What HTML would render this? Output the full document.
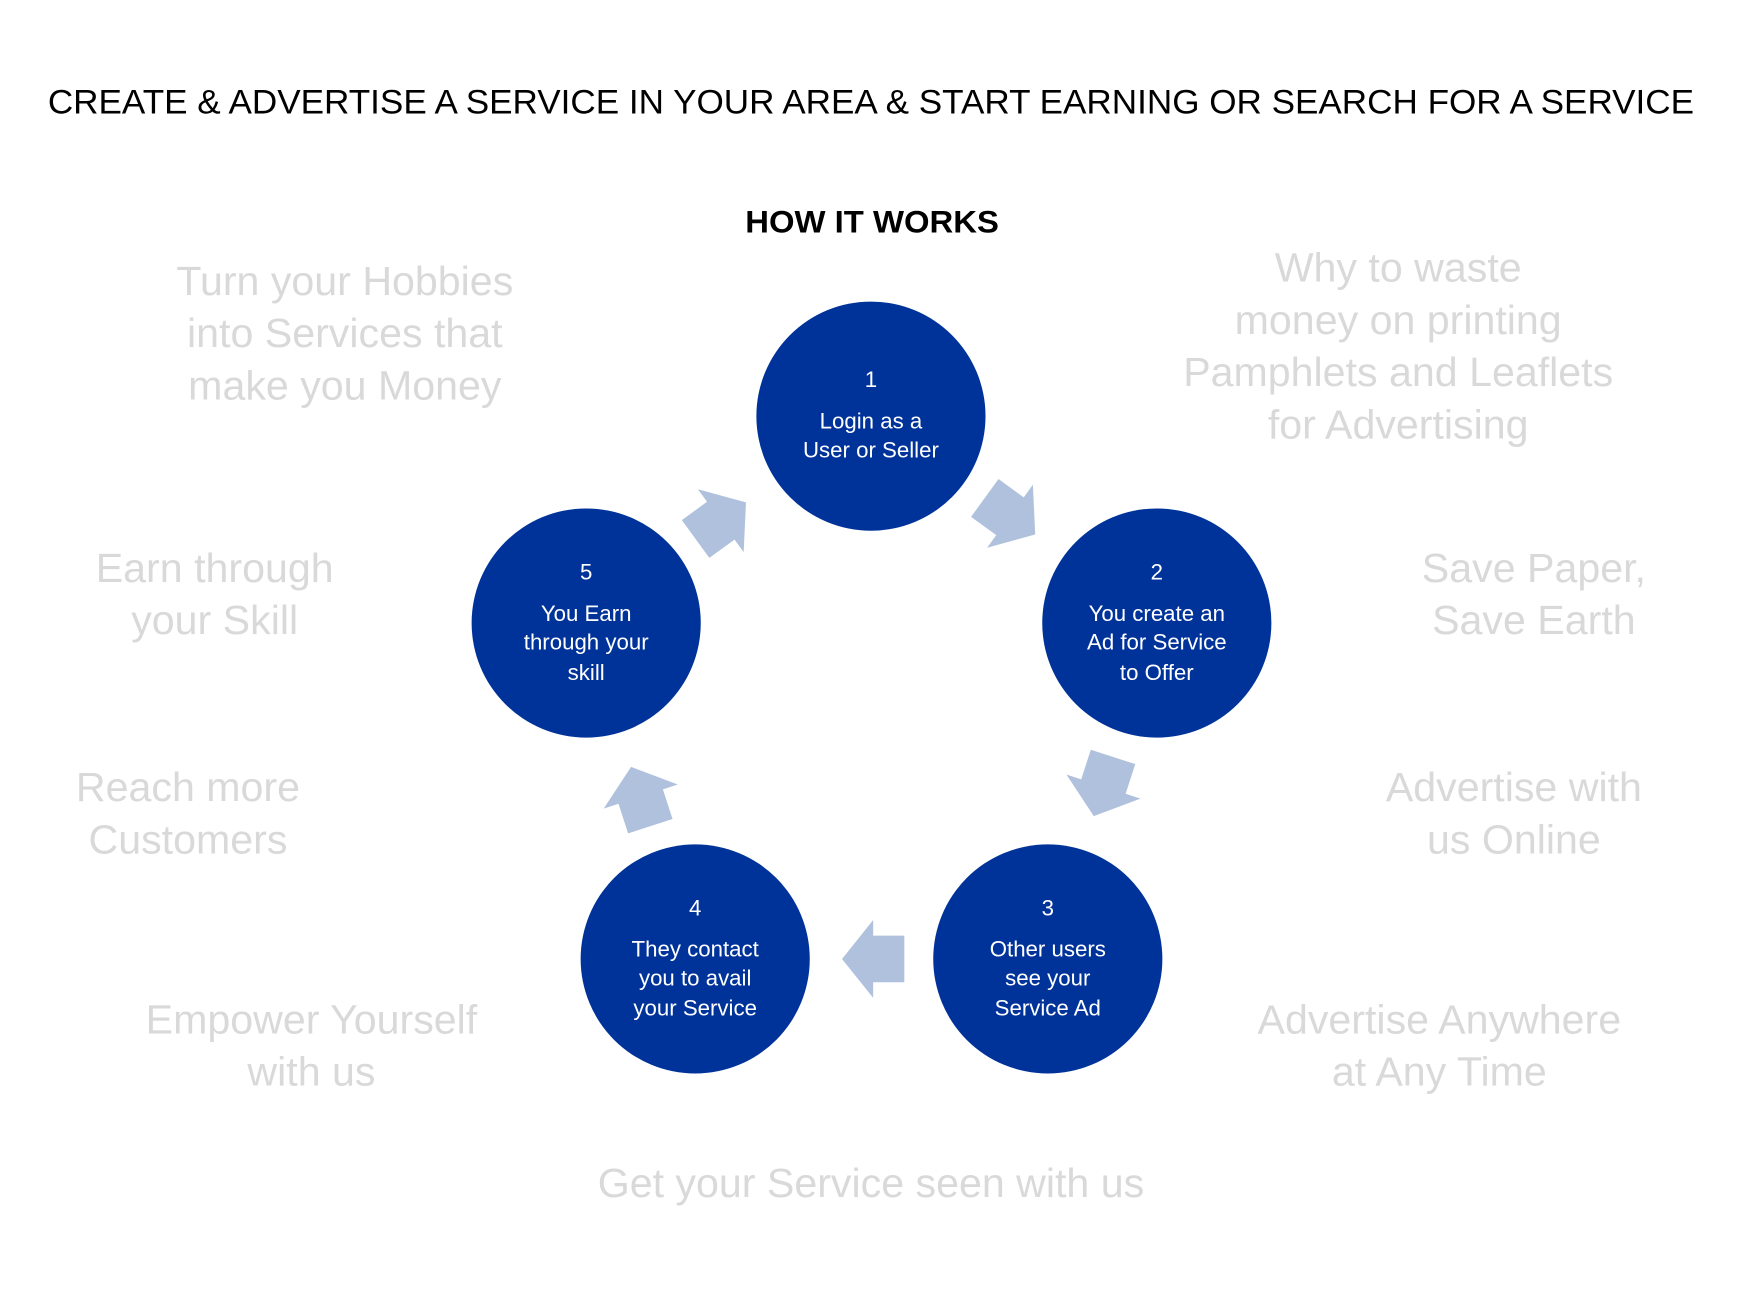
<!DOCTYPE html>
<html><head><meta charset="utf-8"><style>html,body{margin:0;padding:0;background:#fff}svg{display:block}</style></head>
<body>
<svg width="1743" height="1305" viewBox="0 0 1567 1173" xmlns="http://www.w3.org/2000/svg" font-family="'Liberation Sans', sans-serif">
<defs>
<polygon id="arr" points="-28,-21 0,-21 0,-35 28,0 0,35 0,21 -28,21" fill="#b0c1dd"/>
</defs>
<text x="783" y="102" font-size="31" text-anchor="middle" fill="#000" textLength="1480" lengthAdjust="spacingAndGlyphs">CREATE &amp; ADVERTISE A SERVICE IN YOUR AREA &amp; START EARNING OR SEARCH FOR A SERVICE</text>
<text x="784" y="209" font-size="28" font-weight="bold" text-anchor="middle" textLength="228" lengthAdjust="spacingAndGlyphs">HOW IT WORKS</text>

<use href="#arr" transform="translate(908,464) rotate(36)"/>
<use href="#arr" transform="translate(992,707) rotate(108)"/>
<use href="#arr" transform="translate(785,862) rotate(180)"/>
<use href="#arr" transform="translate(576,716) rotate(252)"/>
<use href="#arr" transform="translate(648,468) rotate(324)"/>

<g fill="#003399">
<circle cx="783" cy="374" r="103"/>
<circle cx="1040" cy="560" r="103"/>
<circle cx="942" cy="862" r="103"/>
<circle cx="625" cy="862" r="103"/>
<circle cx="527" cy="560" r="103"/>
</g>
<g fill="#fff" font-size="20" text-anchor="middle">
<text x="783" y="348">1</text><text x="783" y="385">Login as a</text><text x="783" y="411">User or Seller</text>
<text x="1040" y="521">2</text><text x="1040" y="558">You create an</text><text x="1040" y="584">Ad for Service</text><text x="1040" y="611">to Offer</text>
<text x="942" y="823">3</text><text x="942" y="860">Other users</text><text x="942" y="886">see your</text><text x="942" y="913">Service Ad</text>
<text x="625" y="823">4</text><text x="625" y="860">They contact</text><text x="625" y="886">you to avail</text><text x="625" y="913">your Service</text>
<text x="527" y="521">5</text><text x="527" y="558">You Earn</text><text x="527" y="584">through your</text><text x="527" y="611">skill</text>
</g>
<g fill="#d9d9d9" font-size="37" text-anchor="middle">
<text x="310" y="265">Turn your Hobbies</text><text x="310" y="312">into Services that</text><text x="310" y="359">make you Money</text>
<text x="1257" y="253">Why to waste</text><text x="1257" y="300">money on printing</text><text x="1257" y="347">Pamphlets  and Leaflets</text><text x="1257" y="394">for Advertising</text>
<text x="193" y="523">Earn through</text><text x="193" y="570">your Skill</text>
<text x="1379" y="523">Save Paper,</text><text x="1379" y="570">Save Earth</text>
<text x="169" y="720">Reach more</text><text x="169" y="767">Customers</text>
<text x="1361" y="720">Advertise with</text><text x="1361" y="767">us Online</text>
<text x="280" y="929">Empower Yourself</text><text x="280" y="976">with us</text>
<text x="1294" y="929">Advertise Anywhere</text><text x="1294" y="976">at Any Time</text>
<text x="783" y="1076">Get your Service seen with us</text>
</g>
</svg>
</body></html>
